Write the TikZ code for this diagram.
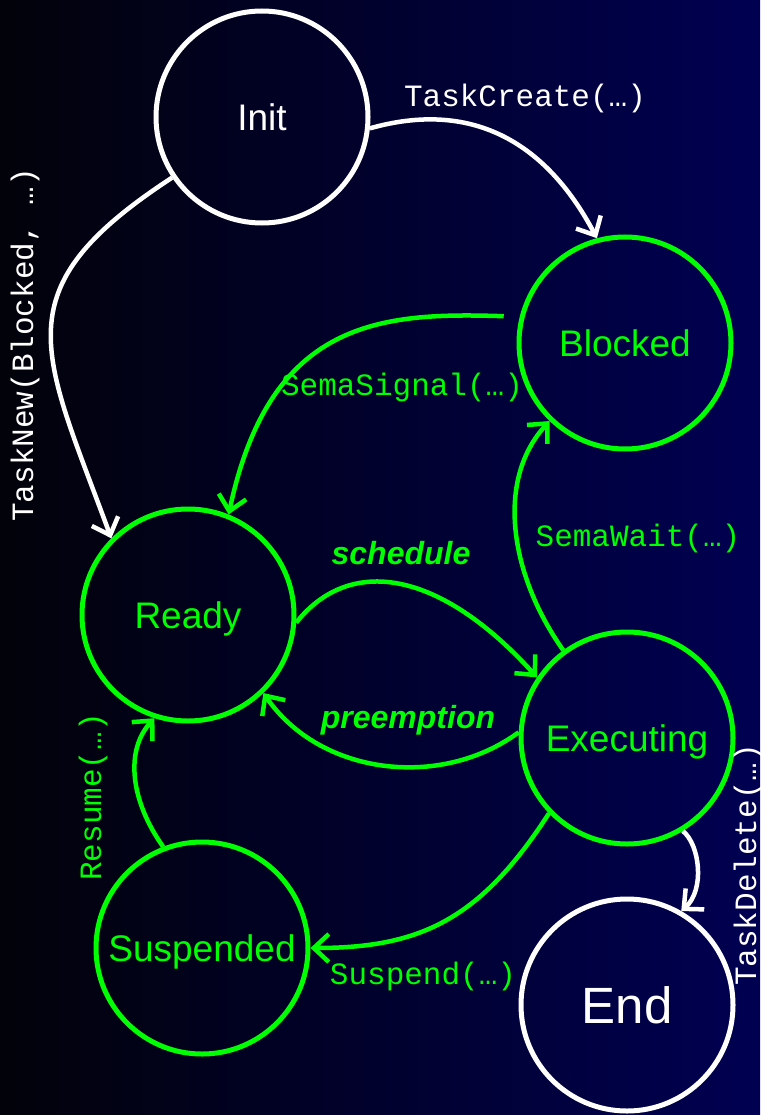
\documentclass[tikz,border=0pt]{standalone}
\usepackage{fontspec}
\setmainfont{Liberation Sans}
\newfontfamily\monof{Liberation Mono}
\usetikzlibrary{arrows.meta}
\definecolor{grn}{RGB}{0,255,0}
\definecolor{bgl}{RGB}{2,2,10}
\definecolor{bgr}{RGB}{0,0,82}
\begin{document}
\begin{tikzpicture}[x=1pt,y=-1pt,
  state/.style={circle, line width=5pt, minimum size=212pt, inner sep=0pt, text height=26.5pt, text depth=0pt, font=\fontsize{37}{37}\selectfont},
  wstate/.style={state, draw=white, text=white},
  gstate/.style={state, draw=grn, text=grn},
  edge/.style={line width=4.5pt, -{Straight Barb[length=15pt,width=28pt]}},
  wedge/.style={edge, draw=white},
  gedge/.style={edge, draw=grn},
  mlabel/.style={font=\monof\fontsize{31}{31}\selectfont, inner sep=0pt},
  wlabel/.style={mlabel, text=white},
  glabel/.style={mlabel, text=grn},
  ilabel/.style={font=\bfseries\itshape\fontsize{32}{32}\selectfont, inner sep=0pt, text=grn}
]
\shade[left color=bgl, right color=bgr] (0,0) rectangle (760,1115);
\useasboundingbox (0,0) rectangle (760,1115);

\node[wstate] (init) at (262,117) {Init};
\node[gstate] (blocked) at (625,343) {Blocked};
\node[gstate] (ready) at (188,615) {Ready};
\node[gstate] (exec) at (627,738) {Executing};
\node[gstate] (susp) at (202,948) {Suspended};
\node[wstate, text height=36.5pt, font=\fontsize{51}{51}\selectfont] (end) at (627,1005) {End};

% white transitions
\draw[wedge] (init.-6) .. controls (470,100) and (545,140) .. (blocked.105);
\draw[wedge] (init.214) .. controls (0,290) and (42,350) .. (ready.135);
\draw[wedge] (exec.-59) .. controls (700,845) and (705,890) .. (end.60);

% green transitions
\draw[gedge, shorten <=16pt] (blocked.166) .. controls (380,312) and (270,320) .. (ready.68);
\draw[gedge] (exec.126) .. controls (510,575) and (495,480) .. (blocked.226);
\draw[gedge] (ready.-4) .. controls (350,555) and (440,570) .. (exec.146);
\draw[gedge] (exec.177) .. controls (440,790) and (320,775) .. (ready.-46);
\draw[gedge] (exec.224) .. controls (480,920) and (420,948) .. (susp.0);
\draw[gedge] (susp.111) .. controls (130,800) and (125,750) .. (ready.252);

% labels
\node[wlabel] (lcreate) at (525,98) {TaskCreate(…)};
\node[wlabel, rotate=90] (lnew) at (25,345) {TaskNew(Blocked, …)};
\node[wlabel, rotate=90] (ldelete) at (748,865) {TaskDelete(…)};
\node[glabel] (lsignal) at (402,387) {SemaSignal(…)};
\node[glabel] (lwait) at (638,538) {SemaWait(…)};
\node[glabel] (lsuspend) at (423,976) {Suspend(…)};
\node[glabel, rotate=90] (lresume) at (93,797) {Resume(…)};
\node[ilabel] (lsched) at (401,553) {schedule};
\node[ilabel] (lpre) at (408,720) {preemption};
\end{tikzpicture}
\end{document}
